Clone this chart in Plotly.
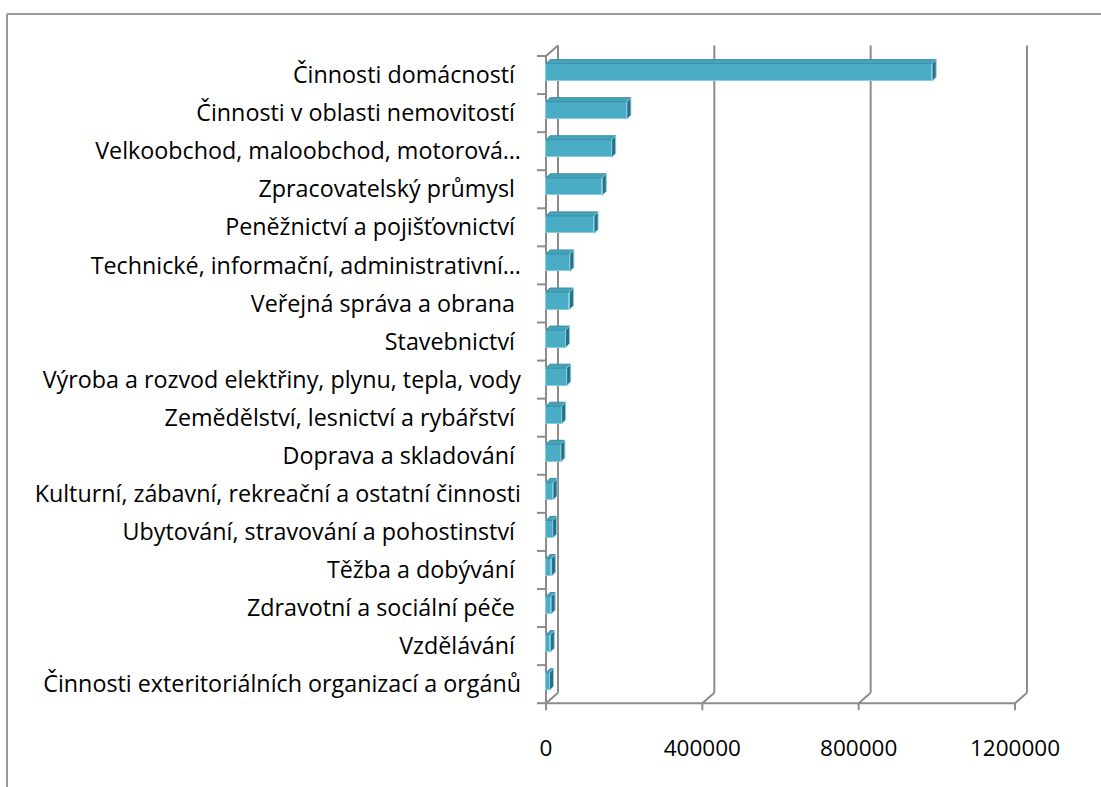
import plotly.graph_objects as go

# Categories (top to bottom) and values
categories = [
    "Činnosti domácností\u00a0",
    "Činnosti v oblasti nemovitostí\u00a0",
    "Velkoobchod, maloobchod, motorová…",
    "Zpracovatelský průmysl\u00a0",
    "Peněžnictví a pojišťovnictví\u00a0",
    "Technické, informační, administrativní…",
    "Veřejná správa a obrana\u00a0",
    "Stavebnictví\u00a0",
    "Výroba a rozvod elektřiny, plynu, tepla, vody",
    "Zemědělství, lesnictví a rybářství\u00a0",
    "Doprava a skladování\u00a0",
    "Kulturní, zábavní, rekreační a ostatní činnosti",
    "Ubytování, stravování a pohostinství\u00a0",
    "Těžba a dobývání\u00a0",
    "Zdravotní a sociální péče\u00a0",
    "Vzdělávání\u00a0",
    "Činnosti exteritoriálních organizací a orgánů",
]
values = [988000, 207000, 168000, 144000, 123000, 61000, 60000, 50000,
          53000, 40000, 38000, 18000, 17000, 14000, 13000, 11000, 9000]
x_ticks = [0, 400000, 800000, 1200000]
x_tick_labels = ["0", "400000", "800000", "1200000"]

# ---- page geometry (pixels) ----
W, H = 1101, 787
L, R, T, B = 530, 1040, 40, 720          # plot area
X0_PX, XMAX_PX = 546, 1015               # front positions of 0 and 1 200 000
Y0_PX, BAND = 56, 38.07                  # top of first category band, band height

u = (x_ticks[-1] - x_ticks[0]) / (XMAX_PX - X0_PX)   # value units per pixel
x_range = [-(X0_PX - L) * u, (R - X0_PX) * u]
y_top = (T - Y0_PX) / BAND - 0.5
y_bot = (B - Y0_PX) / BAND - 0.5

n = len(categories)
idx = list(range(n))

# depth offsets for the 3D look
bar_dx, bar_dy = 4 * u, 4 / BAND          # bar top / side faces
wall_dx, wall_dy = 12 * u, 10.5 / BAND    # back wall
bar_w, bar_shift = 0.46, -0.07

FRONT = "#4BACC6"
TOP = "#45A3BC"
SIDE = "#2A6F83"
EDGE = "#86CDE0"
GRID = "#8C8C8C"

fig = go.Figure()

fig.add_trace(go.Bar(
    x=values, y=idx, orientation="h", width=bar_w,
    offset=-bar_w / 2 + bar_shift,
    marker=dict(color=FRONT, line=dict(color=EDGE, width=1)),
    hoverinfo="skip", showlegend=False,
))

# top and side faces of each bar
top_x, top_y, side_x, side_y = [], [], [], []
for c, v in zip(idx, values):
    t = c + bar_shift - bar_w / 2
    b = c + bar_shift + bar_w / 2
    top_x += [0, v, v + bar_dx, bar_dx, 0, None]
    top_y += [t, t, t - bar_dy, t - bar_dy, t, None]
    side_x += [v, v + bar_dx, v + bar_dx, v, v, None]
    side_y += [t, t - bar_dy, b - bar_dy, b, t, None]

fig.add_trace(go.Scatter(x=top_x, y=top_y, mode="lines", fill="toself",
                         fillcolor=TOP, line=dict(color="#3A8EA5", width=1),
                         hoverinfo="skip", showlegend=False))
fig.add_trace(go.Scatter(x=side_x, y=side_y, mode="lines", fill="toself",
                         fillcolor=SIDE, line=dict(color=EDGE, width=1),
                         hoverinfo="skip", showlegend=False))

# walls, gridlines and ticks
shapes = []
def seg(x0, y0, x1, y1):
    shapes.append(dict(type="line", xref="x", yref="y", x0=x0, y0=y0, x1=x1, y1=y1,
                       line=dict(color=GRID, width=2), layer="below"))

first, last = -0.5, n - 0.5
seg(0, first, 0, last)                                   # front left edge
seg(0, first, wall_dx, first - wall_dy)                  # top-left diagonal
seg(x_ticks[0], last, x_ticks[-1], last)                 # front floor edge
for xv in x_ticks:
    seg(xv + wall_dx, first - wall_dy, xv + wall_dx, last - wall_dy)  # back gridline
    seg(xv, last, xv + wall_dx, last - wall_dy)                        # floor diagonal
    seg(xv, last, xv, last + 7 / BAND)                                 # x tick mark
for k in range(n + 1):
    yb = k - 0.5
    seg(-9 * u, yb, 0, yb)                                             # y tick mark

# outer chart border (right and bottom run off the page)
def px_to_paper_x(p):
    return (p - L) / (R - L)
def px_to_paper_y(p):
    return (B - p) / (B - T)
shapes.append(dict(type="line", xref="paper", yref="paper",
                   x0=px_to_paper_x(7), y0=px_to_paper_y(14),
                   x1=px_to_paper_x(W + 20), y1=px_to_paper_y(14),
                   line=dict(color="#9A9A9A", width=2), layer="below"))
shapes.append(dict(type="line", xref="paper", yref="paper",
                   x0=px_to_paper_x(7), y0=px_to_paper_y(14),
                   x1=px_to_paper_x(7), y1=px_to_paper_y(H + 20),
                   line=dict(color="#9A9A9A", width=2), layer="below"))

FONT = "'Open Sans', Lato, sans-serif"
fig.update_layout(
    width=W, height=H,
    margin=dict(l=L, r=W - R, t=T, b=H - B, pad=0),
    paper_bgcolor="white", plot_bgcolor="rgba(0,0,0,0)",
    shapes=shapes,
    showlegend=False,
    bargap=0,
    font=dict(family=FONT, size=22, color="black"),
)
fig.update_xaxes(range=x_range, tickvals=x_ticks, ticktext=x_tick_labels,
                 showgrid=False, zeroline=False, showline=False, ticks="",
                 ticklabelstandoff=12, tickfont=dict(size=22.5), fixedrange=True)
fig.update_yaxes(range=[y_bot, y_top], tickvals=idx, ticktext=categories,
                 showgrid=False, zeroline=False, showline=False, ticks="",
                 ticklabelstandoff=8, tickfont=dict(size=23.3), fixedrange=True)

fig.write_html("out.html")
